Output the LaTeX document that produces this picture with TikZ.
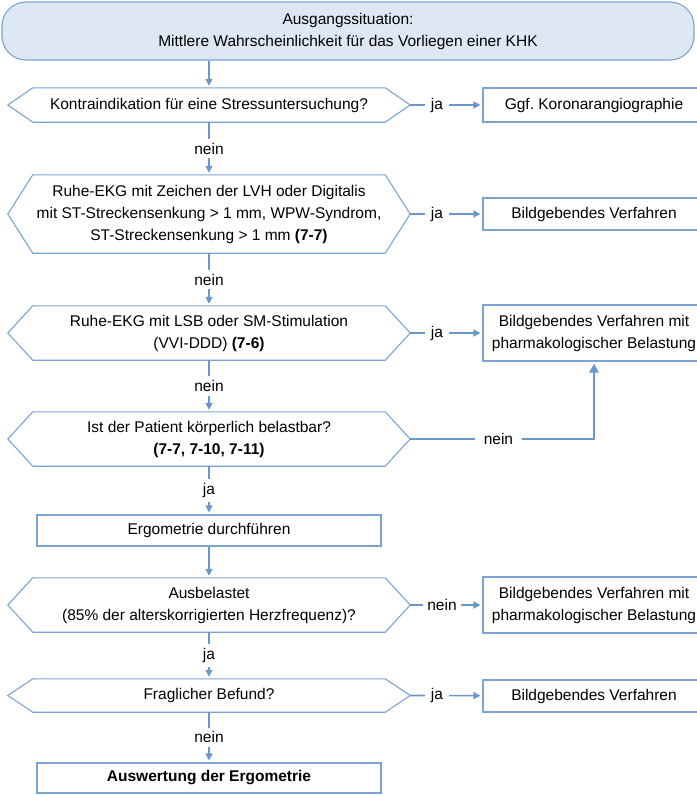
\documentclass[tikz,border=0pt]{standalone}
\usepackage{fontspec}
\setmainfont{Liberation Sans}
\usepackage{tikz}
\usetikzlibrary{arrows.meta,positioning}
\definecolor{boxline}{HTML}{7BA3D4}
\definecolor{arrowc}{HTML}{6A98CE}
\definecolor{startbg}{HTML}{DEE8F4}
\frenchspacing

\begin{document}
\begin{tikzpicture}[x=1pt, y=-1pt,
  every node/.style={font=\fontsize{15.5}{22}\selectfont, text=black},
  startbox/.style={draw=boxline, fill=startbg, rounded corners=24pt, line width=1.1pt, minimum width=692pt, minimum height=58pt, inner sep=0pt, align=center},
  query/.style={minimum width=352pt, inner sep=0pt, align=center},
  hexline/.style={draw=boxline, line width=1.1pt},
  actbox/.style={draw=boxline, line width=1.1pt, minimum width=222pt, inner sep=0pt, align=center},
  stepbox/.style={draw=boxline, line width=1.1pt, minimum width=344pt, inner sep=0pt, align=center},
  flow/.style={draw=arrowc, line width=1.6pt, -{Triangle[length=7pt,width=7pt]}, shorten >=2pt},
  lbl/.style={fill=white, inner xsep=6pt, inner ysep=4pt}
]
  \useasboundingbox (0,0) rectangle (696,795);

  % Start
  \node[startbox] (start) at (348, 31) {Ausgangssituation:\\Mittlere Wahrscheinlichkeit für das Vorliegen einer KHK};

  % Questions
  \node[query, minimum height=34pt] (q1) at (209, 105) {Kontraindikation für eine Stressuntersuchung?};
  \node[query, minimum height=78pt] (q2) at (209, 214) {Ruhe-EKG mit Zeichen der LVH oder Digitalis\\mit ST-Streckensenkung > 1 mm, WPW-Syndrom,\\ST-Streckensenkung > 1 mm \textbf{(7-7)}};
  \node[query, minimum height=54pt] (q3) at (209, 333) {Ruhe-EKG mit LSB oder SM-Stimulation\\(VVI-DDD) \textbf{(7-6)}};
  \node[query, minimum height=54pt] (q4) at (209, 439) {Ist der Patient körperlich belastbar?\\\textbf{(7-7, 7-10, 7-11)}};
  \node[query, minimum height=54pt] (q5) at (209, 605) {Ausbelastet\\(85\% der alterskorrigierten Herzfrequenz)?};
  \node[query, minimum height=33pt] (q6) at (209, 695.5) {Fraglicher Befund?};
  \foreach \q in {q1,q2,q3,q4,q5,q6}
    \draw[hexline] (\q.north west) -- (\q.north east) -- ([xshift=25pt]\q.east) coordinate (\q-e)
      -- (\q.south east) -- (\q.south west) -- ([xshift=-25pt]\q.west) -- cycle;

  % Steps
  \node[stepbox, minimum height=31pt] (erg) at (209, 530.5) {Ergometrie durchführen};
  \node[stepbox, minimum height=30pt] (done) at (209, 778) {\textbf{Auswertung der Ergometrie}};

  % Right boxes
  \node[actbox, minimum height=34pt] (b1) at (594, 105) {Ggf. Koronarangiographie};
  \node[actbox, minimum height=32pt] (b2) at (594, 214) {Bildgebendes Verfahren};
  \node[actbox, minimum height=56pt] (b3) at (594, 333) {Bildgebendes Verfahren mit\\pharmakologischer Belastung};
  \node[actbox, minimum height=56pt] (b5) at (594, 605) {Bildgebendes Verfahren mit\\pharmakologischer Belastung};
  \node[actbox, minimum height=32pt] (b6) at (594, 696) {Bildgebendes Verfahren};

  % Main line
  \draw[flow] (q1.north |- start.south) -- (q1.north);
  \draw[flow] (q1) -- node[lbl] {nein} (q2);
  \draw[flow] (q2) -- node[lbl] {nein} (q3);
  \draw[flow] (q3) -- node[lbl] {nein} (q4);
  \draw[flow] (q4) -- node[lbl] {ja} (erg);
  \draw[flow] (erg) -- (q5);
  \draw[flow] (q5) -- node[lbl] {ja} (q6);
  \draw[flow] (q6) -- node[lbl] {nein} (done);

  % Side branches
  \draw[flow] (q1-e) -- node[lbl, pos=0.37] {ja} (b1);
  \draw[flow] (q2-e) -- node[lbl, pos=0.37] {ja} (b2);
  \draw[flow] (q3-e) -- node[lbl, pos=0.37] {ja} (b3);
  \draw[flow, line width=2.4pt, -{Triangle[length=9pt,width=9pt]}] (q4-e) -| node[lbl, inner xsep=9pt, pos=0.24] {nein} (b3);
  \draw[flow] (q5-e) -- node[lbl, pos=0.44, inner xsep=4pt] {nein} (b5);
  \draw[flow] (q6-e) -- node[lbl, pos=0.37] {ja} (b6);
\end{tikzpicture}
\end{document}
